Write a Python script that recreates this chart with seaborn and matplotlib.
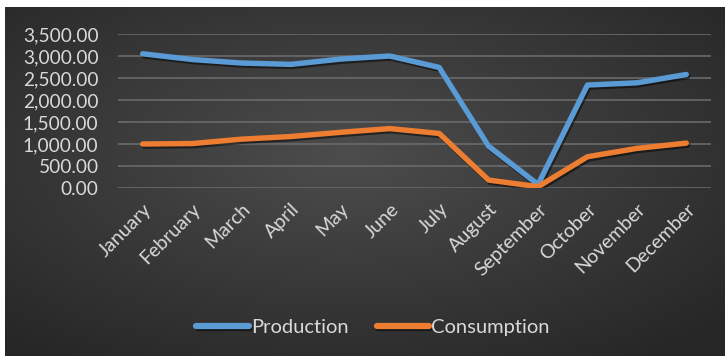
import numpy as np
import pandas as pd
import matplotlib
matplotlib.use("Agg")
import matplotlib.pyplot as plt
import matplotlib.patheffects as pe
import seaborn as sns

months = ["January", "February", "March", "April", "May", "June", "July",
          "August", "September", "October", "November", "December"]
production = [3050, 2920, 2840, 2810, 2930, 3000, 2740, 950, 80, 2340, 2390, 2580]
consumption = [1000, 1010, 1110, 1170, 1265, 1350, 1240, 180, 30, 710, 900, 1020]
series_names = ["Production", "Consumption"]
yticks = [0, 500, 1000, 1500, 2000, 2500, 3000, 3500]

df = pd.DataFrame({
    "month": months * 2,
    "x": list(range(len(months))) * 2,
    "value": production + consumption,
    "series": [series_names[0]] * len(months) + [series_names[1]] * len(months),
})

sns.set_style("white")
plt.rcParams["font.family"] = ["Lato", "DejaVu Sans"]
txt = "#d9d9d9"

fig = plt.figure(figsize=(7.25, 3.56), dpi=100)
fig.patch.set_facecolor("white")

# background panel with radial gradient
bg = fig.add_axes([5 / 725, 0, 720 / 725, 349 / 356])
yy, xx = np.mgrid[-1:1:200j, -1:1:400j]
r = np.sqrt(((xx + 0.05) * 0.9) ** 2 + ((yy + 0.15) * 0.9) ** 2)
grad = np.clip(1 - r / 1.3, 0, 1)
base = 0.15 + 0.15 * grad
img = np.dstack([base, base, base])
bg.imshow(img, aspect="auto", extent=[0, 1, 0, 1], interpolation="bilinear")
bg.set_axis_off()

ax = fig.add_axes([118 / 725, (356 - 188) / 356, (711 - 118) / 725, (188 - 34) / 356])
ax.set_facecolor("none")
palette = {"Production": "#5b9bd5", "Consumption": "#ed7d31"}
sns.lineplot(data=df, x="x", y="value", hue="series", palette=palette,
             linewidth=3.9, ax=ax, legend=True, solid_capstyle="round")
for ln in ax.lines:
    ln.set_path_effects([pe.SimpleLineShadow(offset=(1, -1.5), alpha=0.5, shadow_color="black"), pe.Normal()])

ax.set_xlim(-0.5, 11.5)
ax.set_ylim(0, 3500)
ax.set_yticks(yticks)
ax.set_yticklabels([f"{v:,.2f}" for v in yticks], color=txt, fontsize=13.8)
ax.set_xticks(range(len(months)))
ax.set_xticklabels(months, rotation=45, ha="right", rotation_mode="anchor",
                   color=txt, fontsize=14)
ax.tick_params(axis="x", length=0, pad=9)
ax.tick_params(axis="y", length=0, pad=14)
ax.grid(axis="y", color="#6a6a6a", linewidth=1.2)
ax.set_axisbelow(True)
for s in ax.spines.values():
    s.set_visible(False)
ax.set_xlabel("")
ax.set_ylabel("")

handles, labels = ax.get_legend_handles_labels()
leg = fig.legend(handles, labels, loc="center", bbox_to_anchor=(373 / 725, (356 - 327) / 356),
                 ncol=2, frameon=False, handlelength=2.6, handletextpad=0.1,
                 columnspacing=1.4, fontsize=14.5)
ax.get_legend().remove()
for t in leg.get_texts():
    t.set_color(txt)
for h in leg.get_lines():
    h.set_linewidth(4.5)
    h.set_solid_capstyle("round")

fig.savefig("out.png", dpi=100)
